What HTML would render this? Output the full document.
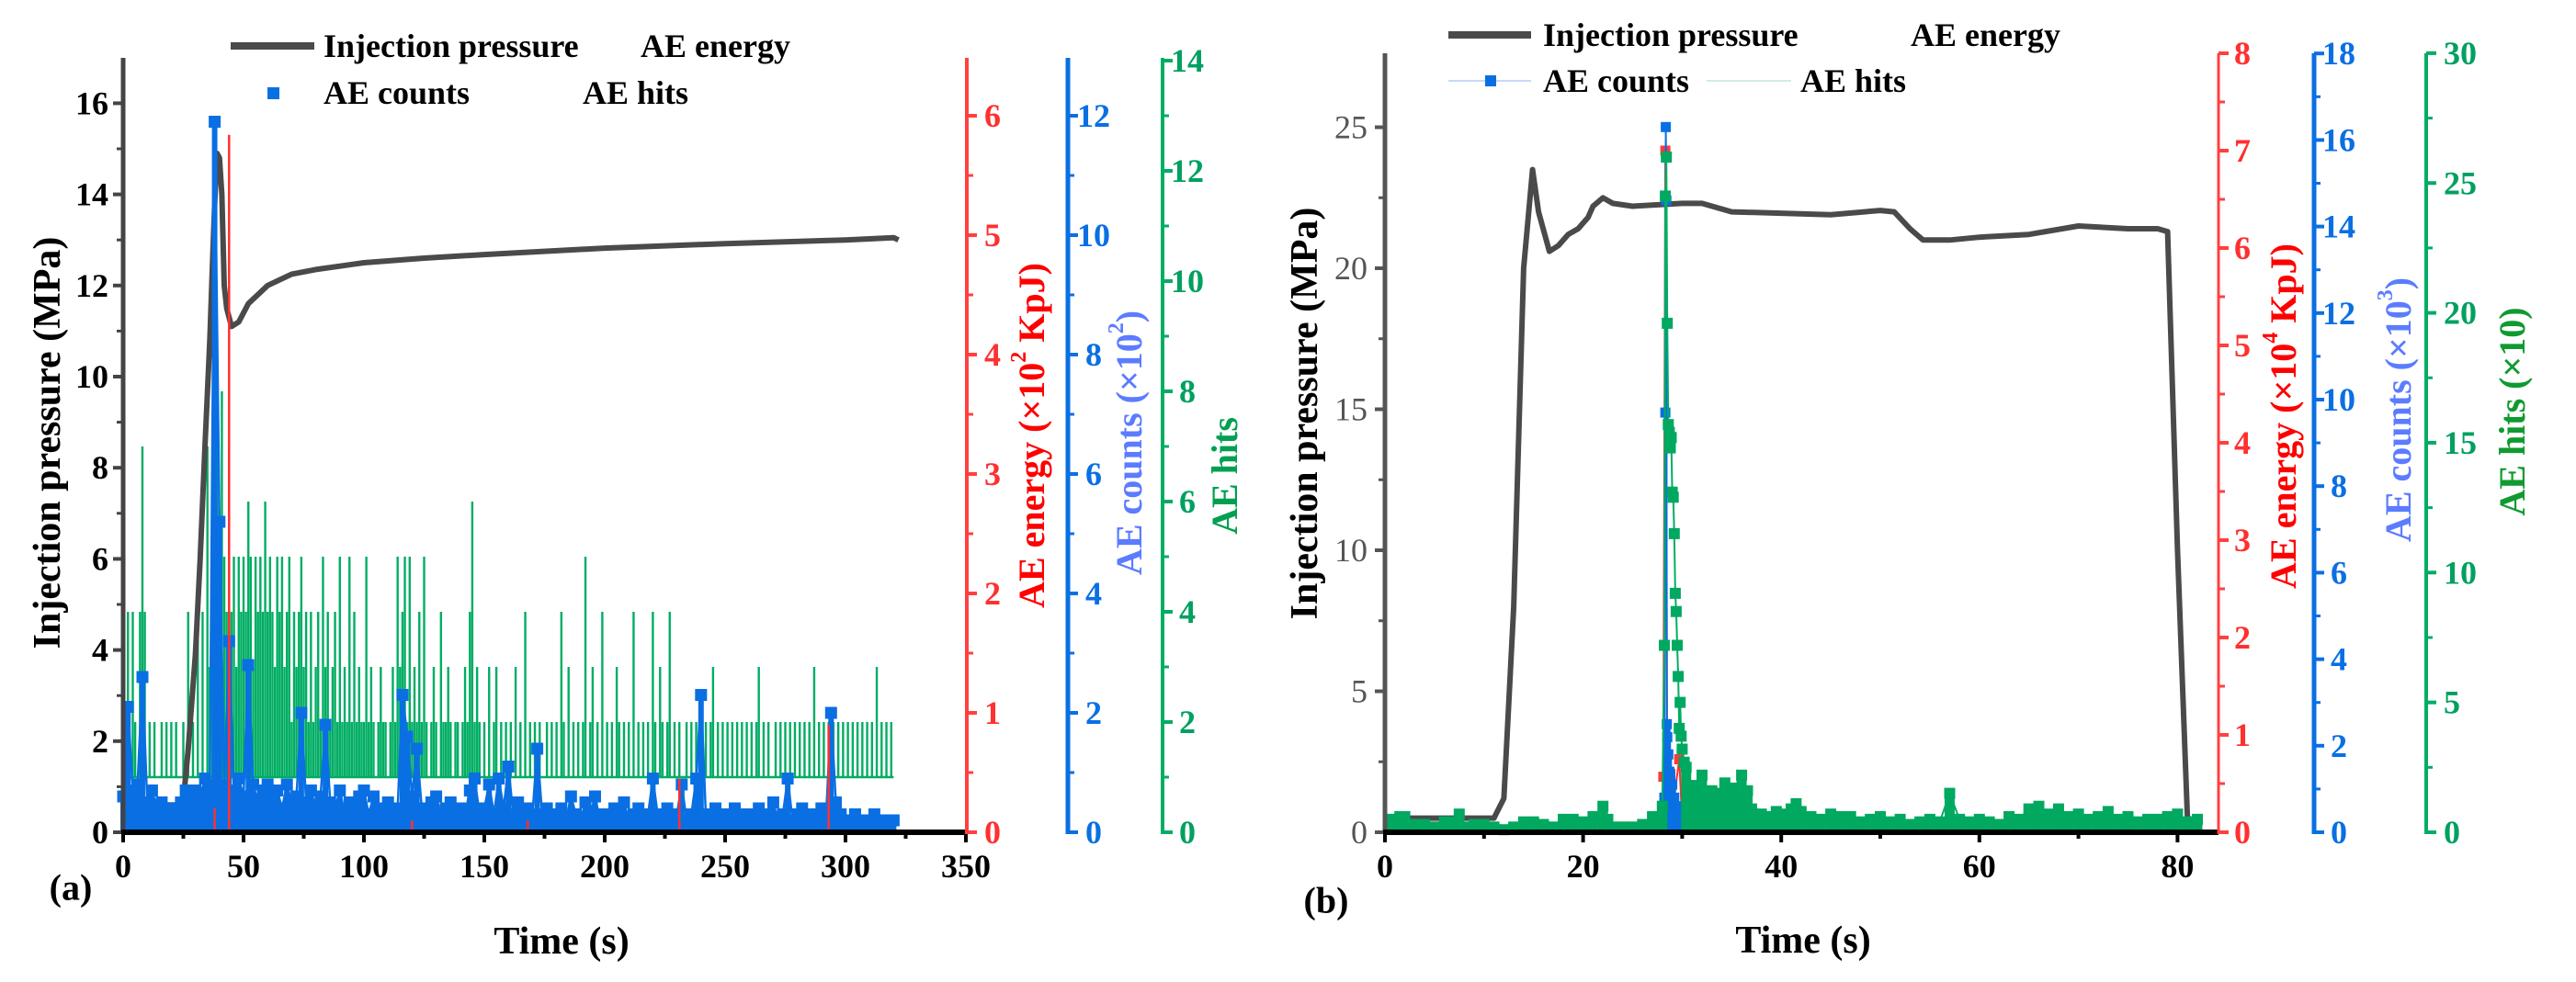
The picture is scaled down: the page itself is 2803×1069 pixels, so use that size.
<!DOCTYPE html>
<html><head><meta charset="utf-8"><style>
html,body{margin:0;padding:0;background:#fff;}
svg{display:block;font-family:"Liberation Serif","DejaVu Serif",serif;font-weight:bold;}
</style></head><body>
<svg id="chart" width="2803" height="1069" viewBox="0 0 2803 1069" xmlns="http://www.w3.org/2000/svg">
<rect width="2803" height="1069" fill="#fff"/>
<g id="pa"></g>
<g id="pb"></g>
</svg>
<script>
// ===== Panel (a) data =====
const aPressT = [0,5,15,22,25,27,30,32,34,36,37,38,39,40,41,42,43,45,48,52,60,70,80,100,125,150,200,250,300,320,322];
const aPressV = [0.8,0.7,0.6,0.6,0.7,1.8,3.9,6,8.5,10.8,12.3,13.8,14.9,14.8,14,12,11.5,11.1,11.2,11.6,12,12.25,12.35,12.5,12.6,12.68,12.82,12.92,13.0,13.05,13.0];
const aHitsStart = 0;
const aHits = [5,2,4,1,4,2,1,4,7,4, 1,2,1,2,1,1,2,1,2,1, 2,1,2,1,1,2,1,4,1,2, 1,4,1,4,1,7,3,5,13,8,
 3,8,5,4,7,4,5,3,5,4, 5,4,6,5,3,5,4,5,4,6, 4,5,4,3,5,4,5,3,4,5, 2,4,3,4,5,3,4,2,4,2,
 3,4,2,5,3,4,2,3,4,2, 5,2,3,2,5,2,4,2,3,2, 2,5,2,3,2,1,2,3,2,2, 1,2,3,2,5,3,4,5,2,5,
 2,3,2,4,2,5,2,1,2,3, 2,1,4,2,2,3,2,1,2,2, 1,2,3,2,4,6,2,3,2,1, 2,1,3,1,2,3,1,2,1,2,
 1,2,1,3,1,2,1,4,1,2, 1,2,1,2,1,1,2,1,2,1, 2,1,4,2,1,3,1,2,1,2, 1,2,5,1,2,3,1,2,1,4,
 1,2,1,2,1,3,2,1,2,1, 2,1,4,1,2,1,2,1,2,1, 4,2,1,3,2,1,2,4,1,2, 1,2,1,1,2,1,2,1,2,1,
 2,1,2,1,2,3,1,2,1,2, 1,2,1,2,1,2,1,2,1,2, 1,2,1,2,3,1,2,1,2,1, 1,2,1,2,1,2,1,2,1,2,
 1,2,1,2,1,2,1,3,1,2, 1,2,1,2,1,2,1,2,1,2, 1,2,1,2,1,2,1,2,1,2, 1,2,1,3,1,2,1,2,1,2, 1];
const aHitsBase = 1;
const aCountsStep = 2;
const aCounts = [0.6,2.1,0.7,0.8,2.6,0.5,0.7,0.4,0.5,0.3,
 0.4,0.3,0.5,0.7,0.6,0.7,0.6,0.9,0.8,11.9,
 5.2,0.8,3.2,0.7,0.9,0.6,2.8,0.8,0.5,0.7,
 0.8,0.6,0.7,0.4,0.8,0.5,0.6,2.0,0.5,0.7,
 0.4,0.6,1.8,0.5,0.4,0.7,0.3,0.5,0.4,0.6,
 0.7,0.3,0.6,0.4,0.3,0.5,0.3,0.4,2.3,1.6,
 0.6,1.4,0.4,0.3,0.5,0.6,0.3,0.4,0.5,0.3,
 0.4,0.3,0.7,0.9,0.3,0.4,0.8,0.3,0.9,0.4,
 1.1,0.3,0.5,0.3,0.4,0.3,1.4,0.3,0.4,0.2,
 0.3,0.4,0.2,0.6,0.3,0.2,0.5,0.3,0.6,0.2,
 0.3,0.2,0.4,0.3,0.5,0.2,0.3,0.4,0.2,0.3,
 0.9,0.3,0.2,0.4,0.2,0.3,0.8,0.2,0.3,0.9,
 2.3,0.3,0.2,0.4,0.2,0.3,0.2,0.4,0.3,0.2,
 0.3,0.2,0.4,0.2,0.3,0.5,0.2,0.3,0.9,0.2,
 0.3,0.4,0.2,0.3,0.2,0.4,0.3,2.0,0.5,0.3,
 0.2,0.2,0.3,0.2,0.2,0.2,0.3,0.2,0.2,0.2, 0.2];
const aEnergyT = [38,44,120,168,231,293];
const aEnergyV = [0.2,5.84,0.1,0.1,0.45,0.9];

// ===== Panel (b) data =====
const bPressT = [0,11,12,13,14,14.9,15.5,16.6,17.5,18.5,19.5,20.5,21,22,23,25,30,32,35,40,45,50,51.4,53,54.3,57,60,65,70,75,78,79,80,81,82];
const bPressV = [0.5,0.5,1.2,8,20,23.5,22,20.6,20.8,21.2,21.4,21.8,22.2,22.5,22.3,22.2,22.3,22.3,22,21.95,21.9,22.05,22,21.4,21,21,21.1,21.2,21.5,21.4,21.4,21.3,10,0.5,0.4];
const bHitsT = [0.5,1,1.5,2,3,4,5,6,7,7.5,8,9,10,11,12,13,14,15,16,17,18,19,20,21,22,22.5,23,24,25,26,27,27.5,
 28.0,28.2,28.3,28.4,28.5,28.6,28.7,28.8,28.9,29.0,29.1,29.2,29.3,29.4,29.5,29.6,29.7,29.8,29.9,30.0,30.2,30.4,30.6,
 31,31.3,31.6,32,32.3,32.6,33,33.3,33.6,34,34.3,34.6,35,35.3,35.6,36,36.3,36.6,37,37.3,37.6,38,38.5,39,39.5,40,
 41,41.5,42,43,44,45,46,47,48,49,50,51,52,53,54,55,56,57,58,59,60,61,62,63,64,65,66,67,68,69,70,71,72,73,74,75,76,77,78,79,80,81,82];
const bHitsV = [0.5,0.4,0.6,0.6,0.3,0.3,0.2,0.4,0.4,0.7,0.2,0.3,0.3,0.2,0.1,0.2,0.4,0.4,0.3,0.2,0.5,0.5,0.4,0.6,1.0,0.5,0.2,0.2,0.2,0.3,0.6,0.3,
 1.0,7.2,24.5,26,19.6,15.7,15.4,14.8,15.2,13.1,12.9,11.5,9.2,8.5,7.2,6.0,4.0,5.0,3.7,3.2,2.7,2.5,1.8,
 1.5,1.8,1.2,2.2,1.4,1.0,1.6,1.2,0.8,1.5,1.9,1.1,1.7,1.0,1.4,2.2,1.3,1.6,0.9,0.7,0.6,0.7,0.5,0.6,0.8,0.7,
 0.9,1.1,0.8,0.6,0.5,0.7,0.6,0.6,0.4,0.5,0.6,0.4,0.5,0.3,0.4,0.5,0.4,1.5,0.5,0.4,0.5,0.4,0.3,0.6,0.5,0.9,1.0,0.7,0.9,0.6,0.7,0.5,0.6,0.8,0.5,0.6,0.4,0.5,0.5,0.6,0.7,0.4,0.5];
const bCountsT = [28.2,28.3,28.35,28.4,28.45,28.5,28.6,28.7,28.8,29,29.2,29.4,29.6,30,30.5,31,32,33,34,35,36,37];
const bCountsV = [0.8,9.7,16.3,14.6,2.5,2.2,1.8,1.4,1.3,1.1,0.8,0.6,0.5,0.4,0.3,0.2,0.15,0.1,0.2,0.15,0.2,0.1];
const bEnergyT = [28.1,28.3,28.5,28.6,28.8,29,29.7,30,31];
const bEnergyV = [0.57,7.0,0.5,0.3,0.6,0.2,0.75,0.1,0.05];

// ===== helpers =====
const NS = 'http://www.w3.org/2000/svg';
function el(parent, tag, attrs){ const e=document.createElementNS(NS,tag); for(const k in attrs) e.setAttribute(k,attrs[k]); parent.appendChild(e); return e; }
function txt(parent, x, y, s, size, fill, anchor, extra){
  const t=el(parent,'text',Object.assign({x:x,y:y,'font-size':size,fill:fill,'text-anchor':anchor||'middle','dominant-baseline':'central'},extra||{}));
  t.textContent=s; return t;
}
function poly(parent, pts, color, w){
  return el(parent,'polyline',{points:pts.map(p=>p[0].toFixed(1)+','+p[1].toFixed(1)).join(' '),fill:'none',stroke:color,'stroke-width':w,'stroke-linejoin':'round'});
}
function squares(parent, pts, color, s){
  pts.forEach(p=>{ const r=el(parent,'rect',{x:(p[0]-s/2).toFixed(1),y:(p[1]-s/2).toFixed(1),width:s,height:s,fill:color});
    
     });
}
function yAxis(parent, name, x, y0, yTop, vmax, major, minor, scale, color, lblColor, side, lblX, anchor, w, fmt, weight){
  const g=el(parent,'g',{});
  
  
  el(g,'line',{x1:x,y1:y0+2,x2:x,y2:yTop,stroke:color,'stroke-width':w});
  const dir = side==='left'?-1:1;
  for(let v=0; v<=vmax+1e-9; v+=minor){
    const y=y0-v*scale; const isMajor=Math.abs(v/major-Math.round(v/major))<1e-6;
    el(g,'line',{x1:x,y1:y,x2:x+dir*(isMajor?11:7),y2:y,stroke:color,'stroke-width':isMajor?4:3});
    if(isMajor) txt(g,lblX,y,fmt?fmt(v):String(Math.round(v)),36,lblColor,anchor,{'font-weight':weight||'bold'});
  }
  return g;
}
function xAxis(parent, name, x0, x1, y, tmax, major, minor, scale){
  const g=el(parent,'g',{});
  
  
  el(g,'line',{x1:x0-2,y1:y,x2:x1,y2:y,stroke:'#000','stroke-width':6});
  for(let v=0; v<=tmax+1e-9; v+=minor){
    const x=x0+v*scale; const isMajor=Math.abs(v/major-Math.round(v/major))<1e-6;
    el(g,'line',{x1:x,y1:y,x2:x,y2:y+(isMajor?11:7),stroke:'#000','stroke-width':4});
    if(isMajor) txt(g,x,y+37,String(v),36,'#000','middle');
  }
}
function rotTitle(parent, name, x, y, parts, size, fill){
  const t=el(parent,'text',{x:0,y:0,'font-size':size,fill:fill,'text-anchor':'middle','dominant-baseline':'central',transform:`translate(${x},${y}) rotate(-90)`});
  
  
  parts.forEach(p=>{ const s=document.createElementNS(NS,'tspan'); s.textContent=p[0];
    if(p[1]){ s.setAttribute('font-size',size*0.6); s.setAttribute('baseline-shift','super'); }
    t.appendChild(s); });
}

// ===== Panel (a) =====
(function(){
  const P=document.getElementById('pa');
  const X0=134, Y0=906;
  const xS=t=>X0+t*2.62;
  const yP=v=>Y0-v*49.6, yE=v=>Y0-v*130, yC=v=>Y0-v*65, yH=v=>Y0-v*60;

  // hits (green) as needles from baseline
  const hits=el(P,'g',{});  
  el(hits,'line',{x1:xS(aHitsStart),y1:yH(aHitsBase),x2:xS(aHitsStart+aHits.length-1),y2:yH(aHitsBase),stroke:'#00ad63','stroke-width':2.5});
  aHits.forEach((v,i)=>{ const l=el(hits,'line',{x1:xS(aHitsStart+i),y1:yH(aHitsBase),x2:xS(aHitsStart+i),y2:yH(v),stroke:'#00ad63','stroke-width':2.4});
      });
  // pressure
  const pr=el(P,'g',{});  
  poly(pr, aPressT.map((t,i)=>[xS(t), yP(aPressV[i])]), '#4a4a4a', 6);
  // counts (blue)
  const cn=el(P,'g',{});  
  const cpts=aCounts.map((v,i)=>[xS(i*aCountsStep), yC(v)]);
  cpts.forEach(p=>el(cn,'rect',{x:p[0]-3,y:p[1],width:6,height:Y0-p[1],fill:'#0a6fe3'}));
  poly(cn, cpts, '#0a6fe3', 2.5);
  squares(cn, cpts, '#0a6fe3', 13);
  // energy (red)
  const en=el(P,'g',{});  
  aEnergyT.forEach((t,i)=>{ const l=el(en,'line',{x1:xS(t),y1:Y0,x2:xS(t),y2:yE(aEnergyV[i]),stroke:'#ff3030','stroke-width':2.5});
      });

  // axes
  yAxis(P,'y-axis-pressure',X0,Y0,63,16,2,1,49.6,'#444','#000','left',118,'end',5);
  xAxis(P,'x-axis-time',X0,1052,Y0,350,50,25,2.62);
  yAxis(P,'y-axis-energy',1052,Y0,63,6,1,0.5,130,'#ff4040','#ff3030','right',1080,'middle',4);
  yAxis(P,'y-axis-counts',1162,Y0,63,12,2,1,65,'#0a6fe3','#0a6fe3','right',1190,'middle',5);
  yAxis(P,'y-axis-hits',1265,Y0,63,14,2,1,60,'#00ad63','#00a060','right',1292,'middle',4);

  rotTitle(P,'y-axis-title-pressure',52,482,[['Injection pressure (MPa)']],42,'#000');
  rotTitle(P,'y-axis-title-energy',1122,474,[['AE energy (×10'],['2',1],[' KpJ)']],40,'#ff0000');
  rotTitle(P,'y-axis-title-counts',1228,482,[['AE counts (×10'],['2',1],[')']],40,'#5b7cff');
  rotTitle(P,'y-axis-title-hits',1332,518,[['AE hits']],40,'#00a050');
  const xt=txt(P,611,1025,'Time (s)',42,'#000','middle');  
  const lb=txt(P,77,966,'(a)',40,'#000','middle');  

  // legend
  const lg=el(P,'g',{});  
  el(lg,'line',{x1:251,y1:50,x2:342,y2:50,stroke:'#4a4a4a','stroke-width':8});
  txt(lg,352,50,'Injection pressure',36,'#000','start');
  txt(lg,697,50,'AE energy',36,'#000','start');
  el(lg,'rect',{x:291,y:95,width:13,height:13,fill:'#0a6fe3'});
  txt(lg,352,101,'AE counts',36,'#000','start');
  txt(lg,634,101,'AE hits',36,'#000','start');
})();

// ===== Panel (b) =====
(function(){
  const P=document.getElementById('pb');
  const X0=1507, Y0=906;
  const xS=t=>X0+t*10.78;
  const yP=v=>Y0-v*30.7, yE=v=>Y0-v*106, yC=v=>Y0-v*47.1, yH=v=>Y0-v*28.27;

  const pr=el(P,'g',{});  
  poly(pr, bPressT.map((t,i)=>[xS(t), yP(bPressV[i])]), '#4a4a4a', 6);

  const en=el(P,'g',{});  
  const epts=bEnergyT.map((t,i)=>[xS(t), yE(bEnergyV[i])]);
  poly(en, epts, '#ff3030', 2);
  squares(en, epts, '#ff3a3a', 11);

  const cn=el(P,'g',{});  
  const cpts=bCountsT.map((t,i)=>[xS(t), yC(bCountsV[i])]);
  cpts.forEach(p=>{ if(Y0-p[1]<140) el(cn,'rect',{x:p[0]-4,y:p[1],width:8,height:Y0-p[1],fill:'#0a6fe3'}); });
  poly(cn, cpts, '#0a6fe3', 2);
  squares(cn, cpts, '#0a6fe3', 11);

  const hs=el(P,'g',{});  
  const hpts=bHitsT.map((t,i)=>[xS(t), yH(bHitsV[i])]);
  hpts.forEach((p,i)=>{ if(bHitsV[i]<=2.5) el(hs,'rect',{x:p[0]-5.5,y:p[1],width:11,height:Y0-p[1],fill:'#00a860'}); });
  poly(hs, hpts, '#00ad63', 2);
  squares(hs, hpts, '#00a860', 12);

  yAxis(P,'y-axis-pressure-b',X0,Y0,58,25,5,2.5,30.7,'#555','#555','left',1488,'end',5,null,'normal');
  xAxis(P,'x-axis-time-b',X0,2414,Y0,80,20,10,10.78);
  yAxis(P,'y-axis-energy-b',2414,Y0,58,8,1,0.5,106,'#ff4040','#ff3030','right',2440,'middle',3);
  yAxis(P,'y-axis-counts-b',2518,Y0,58,18,2,1,47.1,'#0a6fe3','#0a6fe3','right',2545,'middle',5);
  yAxis(P,'y-axis-hits-b',2640,Y0,58,30,5,2.5,28.27,'#00ad63','#00a060','right',2659,'start',4);

  rotTitle(P,'y-axis-title-pressure-b',1420,450,[['Injection pressure (MPa)']],42,'#000');
  rotTitle(P,'y-axis-title-energy-b',2484,453,[['AE energy (×10'],['4',1],[' KpJ)']],40,'#ff0000');
  rotTitle(P,'y-axis-title-counts-b',2609,446,[['AE counts (×10'],['3',1],[')']],40,'#5b7cff');
  rotTitle(P,'y-axis-title-hits-b',2733,448,[['AE hits (×10)']],40,'#109a30');
  const xt=txt(P,1962,1024,'Time (s)',42,'#000','middle');  
  const lb=txt(P,1443,980,'(b)',40,'#000','middle');  

  const lg=el(P,'g',{});  
  el(lg,'line',{x1:1576,y1:38,x2:1666,y2:38,stroke:'#4a4a4a','stroke-width':8});
  txt(lg,1679,38,'Injection pressure',36,'#000','start');
  txt(lg,2079,38,'AE energy',36,'#000','start');
  el(lg,'line',{x1:1576,y1:88,x2:1666,y2:88,stroke:'#c8d8f8','stroke-width':2});
  el(lg,'rect',{x:1616,y:82,width:12,height:12,fill:'#0a6fe3'});
  txt(lg,1679,88,'AE counts',36,'#000','start');
  el(lg,'line',{x1:1857,y1:88,x2:1949,y2:88,stroke:'#cfeede','stroke-width':2});
  txt(lg,1959,88,'AE hits',36,'#000','start');
})();
</script>
</body></html>
